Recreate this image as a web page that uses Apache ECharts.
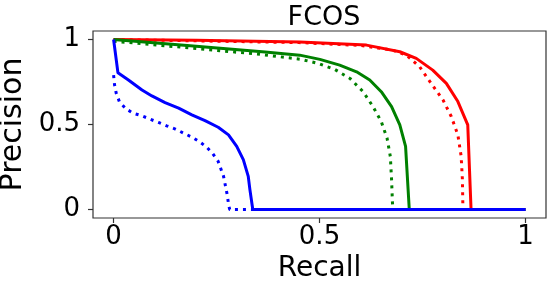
<!DOCTYPE html>
<html>
<head>
<meta charset="utf-8">
<script src="https://cdn.jsdelivr.net/npm/echarts@6/dist/echarts.min.js"></script>
<style>html,body{margin:0;padding:0;background:#fff}#c{width:549px;height:290px}</style>
</head>
<body>
<div id="c"></div>
<script>
const titleText = 'FCOS';
const xName = 'Recall';
const yName = 'Precision';
const tickValues = [0, 0.5, 1];

const redSolidX = [0, 0.2, 0.452, 0.614, 0.695, 0.735, 0.775, 0.808, 0.836, 0.860, 0.868, 1.0];
const redSolidY = [1, 0.995, 0.986, 0.967, 0.928, 0.889, 0.820, 0.742, 0.635, 0.498, 0, 0];

const redDotX = [0, 0.2, 0.45, 0.6, 0.678, 0.711, 0.743, 0.771, 0.80, 0.820, 0.836, 0.844, 0.847, 0.848, 0.849, 1.0];
const redDotY = [1, 0.992, 0.982, 0.965, 0.937, 0.908, 0.840, 0.742, 0.644, 0.547, 0.439, 0.312, 0.176, 0.039, 0, 0];

const greenSolidX = [0, 0.186, 0.368, 0.452, 0.501, 0.549, 0.590, 0.622, 0.650, 0.675, 0.695, 0.709, 0.718, 1.0];
const greenSolidY = [1, 0.963, 0.927, 0.908, 0.883, 0.849, 0.810, 0.762, 0.693, 0.605, 0.498, 0.371, 0, 0];

const greenDotX = [0, 0.186, 0.355, 0.456, 0.497, 0.537, 0.574, 0.606, 0.630, 0.650, 0.664, 0.672, 0.675, 0.677, 0.678, 1.0];
const greenDotY = [0.99, 0.95, 0.913, 0.883, 0.859, 0.824, 0.771, 0.693, 0.605, 0.517, 0.420, 0.312, 0.176, 0.049, 0, 0];

const blueSolidX = [0, 0.0106, 0.036, 0.069, 0.093, 0.125, 0.158, 0.190, 0.222, 0.254, 0.279, 0.299, 0.315, 0.327, 0.331, 0.338, 1.0];
const blueSolidY = [1, 0.804, 0.762, 0.703, 0.668, 0.629, 0.596, 0.557, 0.523, 0.484, 0.439, 0.371, 0.293, 0.195, 0.117, 0, 0];

const blueDotX = [0, 0.0024, 0.0065, 0.014, 0.030, 0.048, 0.069, 0.089, 0.109, 0.129, 0.150, 0.170, 0.190, 0.208, 0.226, 0.241, 0.254, 0.267, 0.275, 0.280, 0.282, 1.0];
const blueDotY = [0.79, 0.732, 0.683, 0.635, 0.592, 0.566, 0.551, 0.531, 0.512, 0.492, 0.473, 0.449, 0.426, 0.400, 0.367, 0.328, 0.283, 0.195, 0.098, 0.02, 0, 0];

function pairs(xs, ys) { return xs.map((x, i) => [x, ys[i]]); }

const FONT = 'DejaVu Sans';
const dotted = [3, 5];

function line(name, xs, ys, color, dashed, z) {
  return {
    name: name, type: 'line', data: pairs(xs, ys), showSymbol: false, symbol: 'none',
    z: z, animation: false,
    lineStyle: { color: color, width: 3, type: dashed ? dotted : 'solid', cap: 'butt', join: 'round' }
  };
}

const chart = echarts.init(document.getElementById('c'), null, { renderer: 'canvas' });
chart.setOption({
  animation: false,
  backgroundColor: '#ffffff',
  title: {
    text: titleText, left: 319, top: -1, textAlign: 'center',
    textStyle: { fontFamily: FONT, fontSize: 27, fontWeight: 'normal', color: '#000' }
  },
  grid: { left: 93, right: 3, top: 31, bottom: 72, show: true, borderColor: '#333', borderWidth: 1.2, backgroundColor: 'transparent', containLabel: false, outerBoundsMode: 'none' },
  xAxis: {
    type: 'value', min: -0.05, max: 1.05,
    name: xName, nameLocation: 'middle', nameGap: 31,
    nameTextStyle: { fontFamily: FONT, fontSize: 28, color: '#000' },
    axisLine: { show: false, onZero: false },
    splitLine: { show: false },
    axisTick: { show: true, length: 5, lineStyle: { color: '#333', width: 1.2 }, customValues: tickValues },
    axisLabel: { fontFamily: FONT, fontSize: 26, color: '#000', margin: 6, customValues: tickValues }
  },
  yAxis: {
    type: 'value', min: -0.05, max: 1.05,
    name: yName, nameLocation: 'middle', nameGap: 43, nameRotate: 90,
    nameTextStyle: { fontFamily: FONT, fontSize: 30, color: '#000' },
    axisLine: { show: false, onZero: false },
    splitLine: { show: false },
    axisTick: { show: true, length: 5, lineStyle: { color: '#333', width: 1.2 }, customValues: tickValues },
    axisLabel: { fontFamily: FONT, fontSize: 26, color: '#000', margin: 13, customValues: tickValues }
  },
  series: [
    line('red dotted', redDotX, redDotY, '#ff0000', true, 2),
    line('red', redSolidX, redSolidY, '#ff0000', false, 3),
    line('green dotted', greenDotX, greenDotY, '#008000', true, 4),
    line('green', greenSolidX, greenSolidY, '#008000', false, 5),
    line('blue dotted', blueDotX, blueDotY, '#0000ff', true, 6),
    line('blue', blueSolidX, blueSolidY, '#0000ff', false, 7)
  ]
});
</script>
</body>
</html>
